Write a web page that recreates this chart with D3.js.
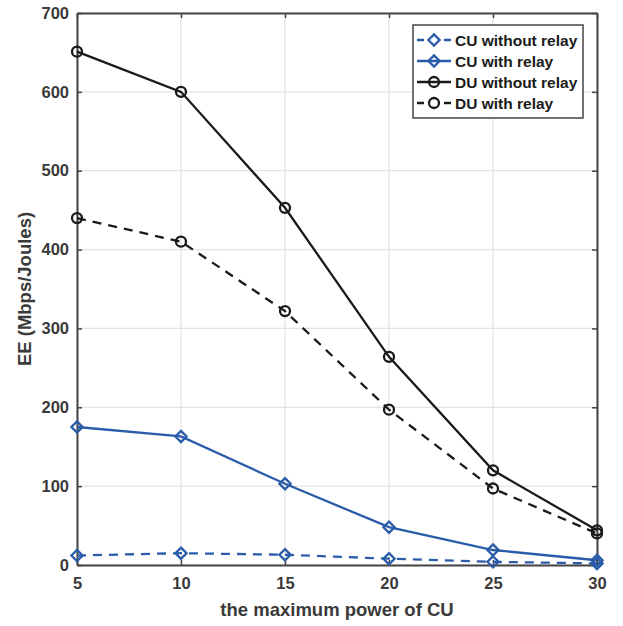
<!DOCTYPE html>
<html>
<head>
<meta charset="utf-8">
<script src="https://cdn.jsdelivr.net/npm/d3@7.9.0/dist/d3.min.js"></script>
<style>
  body { margin: 0; background: #fff; }
  svg { font-family: "Liberation Sans", Arial, sans-serif; }
</style>
</head>
<body>
<svg id="chart" width="623" height="626"></svg>
<script>
// data
const power = [5, 10, 15, 20, 25, 30];
const cuWithout = [12, 15, 13, 8, 4, 2];
const cuWith = [175, 163, 103, 48, 19, 6];
const duWithout = [651, 600, 453, 264, 120, 44];
const duWith = [440, 410, 322, 197, 97, 40];
const xTicks = [5, 10, 15, 20, 25, 30];
const yTicks = [0, 100, 200, 300, 400, 500, 600, 700];

const series = [
  { name: "CU without relay", values: cuWithout, color: "#2a5caa", dash: "9,7", marker: "diamond" },
  { name: "CU with relay", values: cuWith, color: "#2a5caa", dash: null, marker: "diamond" },
  { name: "DU without relay", values: duWithout, color: "#1a1a1a", dash: null, marker: "circle" },
  { name: "DU with relay", values: duWith, color: "#1a1a1a", dash: "9,7", marker: "circle" },
];

const margin = { left: 77, top: 13, right: 26, bottom: 61 };
const width = 623, height = 626;
const svg = d3.select("#chart");

const x = d3.scaleLinear().domain([5, 30]).range([margin.left, width - margin.right]);
const y = d3.scaleLinear().domain([0, 700]).range([height - margin.bottom, margin.top]);

const axisColor = "#444";

// grid
const grid = svg.append("g");
grid.selectAll(".gx").data(xTicks).enter().append("line")
  .attr("x1", d => x(d)).attr("x2", d => x(d))
  .attr("y1", y(0)).attr("y2", y(700))
  .attr("stroke", "#e3e3e3").attr("stroke-width", 1.2);
grid.selectAll(".gy").data(yTicks).enter().append("line")
  .attr("x1", x(5)).attr("x2", x(30))
  .attr("y1", d => y(d)).attr("y2", d => y(d))
  .attr("stroke", "#e3e3e3").attr("stroke-width", 1.2);

// axes
const xAxis = svg.append("g")
  .attr("transform", `translate(0,${y(0)})`)
  .call(d3.axisBottom(x).tickValues(xTicks).tickSizeInner(-5).tickSizeOuter(0).tickPadding(12));
const yAxis = svg.append("g")
  .attr("transform", `translate(${x(5)},0)`)
  .call(d3.axisLeft(y).tickValues(yTicks).tickSizeInner(-5).tickSizeOuter(0).tickPadding(8));
const xTop = svg.append("g")
  .attr("transform", `translate(0,${y(700)})`)
  .call(d3.axisTop(x).tickValues(xTicks).tickSizeInner(-5).tickSizeOuter(0).tickFormat(""));
const yRight = svg.append("g")
  .attr("transform", `translate(${x(30)},0)`)
  .call(d3.axisRight(y).tickValues(yTicks).tickSizeInner(-5).tickSizeOuter(0).tickFormat(""));

[xAxis, yAxis, xTop, yRight].forEach(g => {
  g.select(".domain").attr("stroke", axisColor).attr("stroke-width", 2);
  g.selectAll(".tick line").attr("stroke", axisColor).attr("stroke-width", 1.5);
  g.selectAll(".tick text")
    .attr("fill", "#3a3a3a")
    .style("font-size", "16.5px")
    .style("font-weight", "bold");
});

// lines
const line = d3.line().x((d, i) => x(power[i])).y(d => y(d));
const diamond = d3.symbol().type(d3.symbolDiamond2).size(80);

function drawMarker(g, type, color, cx, cy) {
  if (type === "circle") {
    g.append("circle").attr("cx", cx).attr("cy", cy).attr("r", 5)
      .attr("fill", "none").attr("stroke", color).attr("stroke-width", 2.3);
  } else {
    g.append("path").attr("d", diamond)
      .attr("transform", `translate(${cx},${cy})`)
      .attr("fill", "none").attr("stroke", color).attr("stroke-width", 2.3);
  }
}

series.forEach(s => {
  svg.append("path")
    .datum(s.values)
    .attr("d", line)
    .attr("fill", "none")
    .attr("stroke", s.color)
    .attr("stroke-width", 2.3)
    .attr("stroke-dasharray", s.dash);
  const mg = svg.append("g");
  s.values.forEach((v, i) => drawMarker(mg, s.marker, s.color, x(power[i]), y(v)));
});

// axis labels
svg.append("text")
  .attr("x", (x(5) + x(30)) / 2)
  .attr("y", 616)
  .attr("text-anchor", "middle")
  .attr("fill", "#3a3a3a")
  .style("font-size", "18.5px")
  .style("font-weight", "bold")
  .text("the maximum power of CU");

svg.append("text")
  .attr("transform", `translate(31,${(y(0) + y(700)) / 2}) rotate(-90)`)
  .attr("text-anchor", "middle")
  .attr("fill", "#3a3a3a")
  .style("font-size", "18.5px")
  .style("font-weight", "bold")
  .text("EE (Mbps/Joules)");

// legend
const lg = svg.append("g").attr("transform", "translate(413,25)");
lg.append("rect").attr("width", 170).attr("height", 93)
  .attr("fill", "#fff").attr("stroke", "#444").attr("stroke-width", 1.5);
series.forEach((s, i) => {
  const yy = 15 + i * 21;
  lg.append("line").attr("x1", 4).attr("x2", 38).attr("y1", yy).attr("y2", yy)
    .attr("stroke", s.color).attr("stroke-width", 2.3)
    .attr("stroke-dasharray", s.dash ? "7,20" : null);
  drawMarker(lg, s.marker, s.color, 21, yy);
  lg.append("text").attr("x", 42).attr("y", yy + 5.5)
    .attr("fill", "#1a1a1a")
    .style("font-size", "15.5px")
    .style("font-weight", "bold")
    .text(s.name);
});
</script>
</body>
</html>
